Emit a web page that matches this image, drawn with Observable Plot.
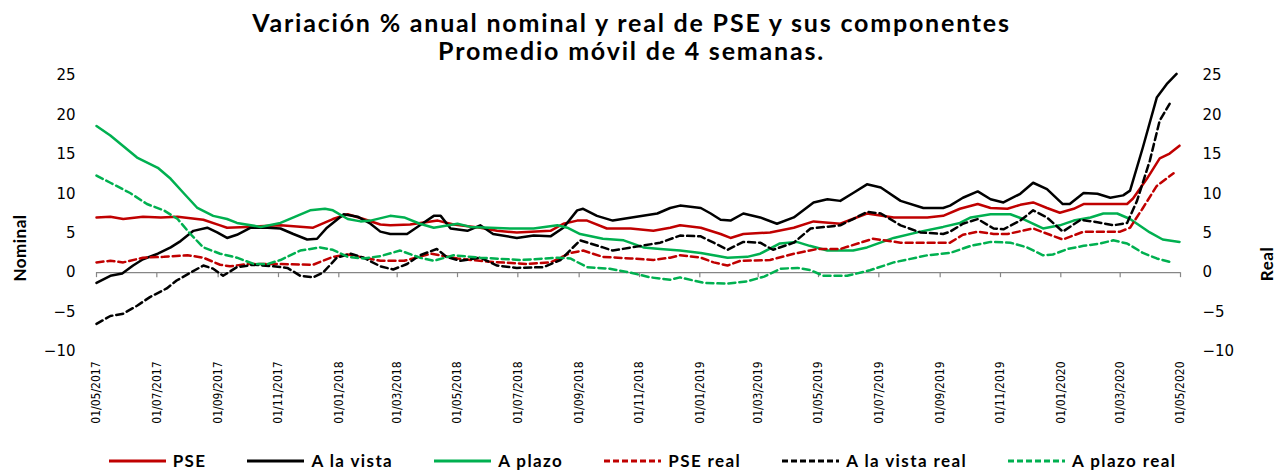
<!DOCTYPE html>
<html><head><meta charset="utf-8">
<script src="https://cdn.jsdelivr.net/npm/d3@7"></script>
<script src="https://cdn.jsdelivr.net/npm/@observablehq/plot@0.6"></script>
<style>
body{margin:0;background:#fff;width:1279px;height:470px;position:relative;overflow:hidden;font-family:Lato,"Open Sans",sans-serif;color:#000;}
#title{position:absolute;top:8px;left:-8px;width:1279px;text-align:center;font-weight:700;font-size:25px;line-height:28px;letter-spacing:1.8px;}
#chart{position:absolute;top:60px;left:0;}
.ylab{position:absolute;font-weight:700;font-size:17px;letter-spacing:0.5px;transform:translate(-50%,-50%) rotate(-90deg);white-space:nowrap;}
#legend{position:absolute;top:450px;left:3px;width:1279px;display:flex;justify-content:center;gap:41px;font-weight:700;font-size:17px;letter-spacing:1.4px;line-height:22px;}
#legend .item{display:flex;align-items:center;gap:7px;}
</style></head>
<body>
<div id="title">Variación % anual nominal y real de PSE y sus componentes<br>Promedio móvil de 4 semanas.</div>
<div id="chart"></div>
<div class="ylab" style="left:19px;top:248px;">Nominal</div>
<div class="ylab" style="left:1266px;top:264px;">Real</div>
<div id="legend"></div>
<script>
const pse = [["2017-05-01",7.0],["2017-05-15",7.1],["2017-05-28",6.8],["2017-06-17",7.1],["2017-07-05",7.0],["2017-07-22",7.1],["2017-08-17",6.7],["2017-09-03",6.0],["2017-09-10",5.7],["2017-09-30",5.8],["2017-11-03",6.0],["2017-12-06",5.7],["2017-12-26",6.8],["2018-01-10",7.4],["2018-01-26",6.8],["2018-02-12",6.1],["2018-02-22",6.0],["2018-03-14",6.1],["2018-04-11",6.6],["2018-04-27",6.1],["2018-05-24",5.7],["2018-06-10",5.3],["2018-06-30",5.1],["2018-08-03",5.3],["2018-08-16",6.2],["2018-08-30",6.6],["2018-09-09",6.6],["2018-09-29",5.6],["2018-10-23",5.6],["2018-11-15",5.3],["2018-12-02",5.7],["2018-12-12",6.0],["2019-01-02",5.7],["2019-01-22",4.9],["2019-02-01",4.4],["2019-02-14",4.9],["2019-03-13",5.1],["2019-04-06",5.7],["2019-04-26",6.5],["2019-05-23",6.2],["2019-06-19",7.5],["2019-07-16",7.0],["2019-08-19",7.0],["2019-09-04",7.2],["2019-09-21",8.1],["2019-10-09",8.7],["2019-10-22",8.2],["2019-11-08",8.1],["2019-11-21",8.6],["2019-12-04",8.9],["2019-12-18",8.2],["2019-12-31",7.6],["2020-01-14",8.1],["2020-01-24",8.7],["2020-02-10",8.7],["2020-03-08",8.7],["2020-03-14",9.4],["2020-03-28",11.9],["2020-04-10",14.5],["2020-04-20",15.1],["2020-04-30",16.1]];

const aLaVista = [["2017-05-01",-1.3],["2017-05-15",-0.4],["2017-05-27",-0.1],["2017-06-07",0.9],["2017-06-17",1.7],["2017-07-02",2.4],["2017-07-15",3.2],["2017-07-25",4.0],["2017-08-07",5.3],["2017-08-21",5.7],["2017-08-31",5.1],["2017-09-10",4.4],["2017-09-20",4.8],["2017-10-04",5.7],["2017-10-21",5.7],["2017-11-03",5.6],["2017-11-16",4.9],["2017-11-30",4.2],["2017-12-10",4.3],["2017-12-20",5.7],["2018-01-06",7.4],["2018-01-20",7.1],["2018-02-02",6.2],["2018-02-12",5.2],["2018-02-22",4.9],["2018-03-11",4.9],["2018-03-24",6.0],["2018-04-07",7.2],["2018-04-14",7.2],["2018-04-24",5.6],["2018-05-11",5.3],["2018-05-24",6.0],["2018-06-06",4.9],["2018-06-30",4.4],["2018-07-17",4.7],["2018-08-03",4.6],["2018-08-16",5.7],["2018-08-30",7.9],["2018-09-05",8.1],["2018-09-19",7.2],["2018-10-05",6.6],["2018-10-29",7.1],["2018-11-19",7.5],["2018-12-02",8.2],["2018-12-12",8.5],["2019-01-02",8.2],["2019-01-12",7.5],["2019-01-22",6.7],["2019-02-01",6.6],["2019-02-14",7.5],["2019-03-03",7.0],["2019-03-20",6.2],["2019-04-06",7.0],["2019-04-26",8.9],["2019-05-10",9.3],["2019-05-23",9.1],["2019-06-05",10.1],["2019-06-19",11.2],["2019-07-03",10.8],["2019-07-23",9.1],["2019-08-15",8.2],["2019-09-04",8.2],["2019-09-11",8.5],["2019-09-24",9.5],["2019-10-09",10.3],["2019-10-22",9.3],["2019-11-04",8.9],["2019-11-21",10.0],["2019-12-04",11.4],["2019-12-18",10.6],["2020-01-03",8.7],["2020-01-10",8.7],["2020-01-24",10.1],["2020-02-07",10.0],["2020-02-20",9.5],["2020-03-04",9.8],["2020-03-11",10.4],["2020-03-24",15.9],["2020-04-07",22.2],["2020-04-17",23.9],["2020-04-27",25.2]];

const aPlazo = [["2017-05-01",18.6],["2017-05-15",17.4],["2017-06-11",14.6],["2017-07-02",13.3],["2017-07-15",11.9],["2017-07-28",10.1],["2017-08-11",8.2],["2017-08-27",7.2],["2017-09-10",6.8],["2017-09-20",6.3],["2017-10-14",5.8],["2017-11-03",6.3],["2017-12-03",7.9],["2017-12-18",8.1],["2017-12-26",7.9],["2018-01-10",6.8],["2018-01-23",6.5],["2018-02-02",6.6],["2018-02-22",7.2],["2018-03-08",7.0],["2018-03-24",6.2],["2018-04-07",5.7],["2018-05-01",6.2],["2018-05-14",5.8],["2018-06-23",5.6],["2018-07-17",5.6],["2018-08-10",6.0],["2018-08-20",5.7],["2018-09-02",4.9],["2018-09-25",4.3],["2018-10-16",4.1],["2018-11-05",3.2],["2018-11-22",3.0],["2018-12-12",2.8],["2019-01-02",2.5],["2019-01-29",1.9],["2019-02-18",2.0],["2019-03-03",2.4],["2019-03-23",3.7],["2019-04-09",3.9],["2019-04-22",3.4],["2019-05-10",2.8],["2019-06-05",2.8],["2019-06-19",3.2],["2019-07-16",4.4],["2019-08-12",5.2],["2019-09-04",5.8],["2019-09-21",6.3],["2019-10-02",7.0],["2019-10-22",7.4],["2019-11-11",7.4],["2019-11-24",6.8],["2019-12-14",5.6],["2019-12-31",6.0],["2020-01-14",6.6],["2020-01-31",7.0],["2020-02-13",7.5],["2020-02-27",7.5],["2020-03-11",6.8],["2020-03-31",5.1],["2020-04-13",4.2],["2020-04-30",3.9]];

const pseReal = [["2017-05-01",1.3],["2017-05-15",1.5],["2017-05-28",1.3],["2017-06-17",1.9],["2017-07-08",2.0],["2017-08-01",2.2],["2017-08-17",1.9],["2017-09-03",1.0],["2017-09-13",0.8],["2017-09-30",1.1],["2017-11-03",1.1],["2017-12-06",1.0],["2017-12-26",2.0],["2018-01-10",2.3],["2018-01-26",1.9],["2018-02-12",1.5],["2018-03-08",1.5],["2018-04-04",2.4],["2018-05-01",1.8],["2018-05-31",1.4],["2018-07-10",1.1],["2018-08-03",1.3],["2018-08-23",2.5],["2018-09-05",2.8],["2018-09-25",2.0],["2018-10-23",1.8],["2018-11-15",1.6],["2018-12-02",1.9],["2018-12-12",2.2],["2019-01-02",1.9],["2019-01-15",1.3],["2019-01-29",0.9],["2019-02-11",1.5],["2019-03-13",1.6],["2019-04-06",2.4],["2019-04-30",3.0],["2019-05-23",3.0],["2019-06-25",4.3],["2019-07-23",3.8],["2019-08-25",3.8],["2019-09-11",3.8],["2019-09-24",4.8],["2019-10-09",5.2],["2019-10-25",4.9],["2019-11-08",4.9],["2019-12-04",5.6],["2019-12-21",4.8],["2020-01-03",4.2],["2020-01-24",5.2],["2020-02-10",5.2],["2020-03-01",5.2],["2020-03-11",5.7],["2020-03-24",8.2],["2020-04-07",11.0],["2020-04-24",12.6]];

const aLaVistaReal = [["2017-05-01",-6.5],["2017-05-15",-5.5],["2017-05-28",-5.2],["2017-06-11",-4.2],["2017-06-24",-3.1],["2017-07-11",-2.0],["2017-07-21",-1.0],["2017-08-04",0.0],["2017-08-17",0.9],["2017-08-27",0.5],["2017-09-06",-0.4],["2017-09-20",0.7],["2017-10-07",1.0],["2017-10-27",0.8],["2017-11-10",0.6],["2017-11-23",-0.4],["2017-12-06",-0.6],["2017-12-16",0.0],["2017-12-30",1.9],["2018-01-13",2.4],["2018-01-26",1.9],["2018-02-12",0.8],["2018-02-25",0.4],["2018-03-11",1.1],["2018-03-24",2.2],["2018-04-10",3.0],["2018-04-20",2.0],["2018-05-04",1.5],["2018-05-24",1.9],["2018-06-10",0.9],["2018-06-30",0.6],["2018-07-27",0.7],["2018-08-13",1.6],["2018-09-02",4.1],["2018-09-25",3.2],["2018-10-05",2.8],["2018-10-29",3.3],["2018-11-22",3.8],["2018-12-12",4.7],["2019-01-02",4.6],["2019-01-15",3.8],["2019-01-29",2.9],["2019-02-14",3.9],["2019-03-03",3.8],["2019-03-16",2.9],["2019-04-06",3.8],["2019-04-23",5.6],["2019-05-23",6.0],["2019-06-05",6.8],["2019-06-19",7.7],["2019-07-03",7.5],["2019-07-23",6.0],["2019-08-12",5.1],["2019-09-04",4.9],["2019-09-11",5.2],["2019-09-24",6.2],["2019-10-09",6.8],["2019-10-25",5.6],["2019-11-04",5.5],["2019-11-21",6.6],["2019-12-04",7.9],["2019-12-18",7.0],["2020-01-03",5.2],["2020-01-21",6.7],["2020-02-07",6.4],["2020-02-23",6.0],["2020-03-08",6.3],["2020-03-18",9.1],["2020-03-31",14.2],["2020-04-10",19.3],["2020-04-20",21.4]];

const aPlazoReal = [["2017-05-01",12.3],["2017-05-15",11.4],["2017-06-04",10.1],["2017-06-21",8.7],["2017-07-08",7.9],["2017-07-22",6.8],["2017-08-04",4.9],["2017-08-17",3.2],["2017-09-03",2.4],["2017-09-20",1.9],["2017-10-07",1.1],["2017-10-21",1.1],["2017-11-03",1.6],["2017-11-23",2.8],["2017-12-13",3.2],["2017-12-26",2.9],["2018-01-10",2.0],["2018-01-26",1.8],["2018-02-12",2.1],["2018-03-04",2.8],["2018-03-24",1.9],["2018-04-07",1.5],["2018-04-27",2.2],["2018-05-24",1.9],["2018-07-04",1.6],["2018-08-10",1.9],["2018-08-23",1.8],["2018-09-09",0.7],["2018-10-02",0.5],["2018-10-23",0.0],["2018-11-12",-0.6],["2018-12-02",-0.9],["2018-12-12",-0.6],["2019-01-05",-1.3],["2019-01-29",-1.4],["2019-02-18",-1.1],["2019-03-07",-0.5],["2019-03-24",0.5],["2019-04-10",0.6],["2019-04-23",0.3],["2019-05-06",-0.4],["2019-05-30",-0.4],["2019-06-22",0.3],["2019-07-16",1.3],["2019-08-19",2.2],["2019-09-11",2.5],["2019-10-02",3.4],["2019-10-22",3.9],["2019-11-11",3.8],["2019-11-28",3.2],["2019-12-14",2.2],["2019-12-24",2.3],["2020-01-08",3.0],["2020-01-24",3.4],["2020-02-10",3.7],["2020-02-23",4.1],["2020-03-08",3.7],["2020-03-24",2.5],["2020-04-07",1.8],["2020-04-22",1.3]];

const yTicks = [-10, -5, 0, 5, 10, 15, 20, 25];
const xTickLabels = ["2017-05-01","2017-07-01","2017-09-01","2017-11-01","2018-01-01","2018-03-01","2018-05-01","2018-07-01","2018-09-01","2018-11-01","2019-01-01","2019-03-01","2019-05-01","2019-07-01","2019-09-01","2019-11-01","2020-01-01","2020-03-01","2020-05-01"];

const seriesDefs = [
  {name: "PSE", data: pse, color: "#C00000", dash: null},
  {name: "A la vista", data: aLaVista, color: "#000000", dash: null},
  {name: "A plazo", data: aPlazo, color: "#00B050", dash: null},
  {name: "PSE real", data: pseReal, color: "#C00000", dash: "7,4"},
  {name: "A la vista real", data: aLaVistaReal, color: "#000000", dash: "7,4"},
  {name: "A plazo real", data: aPlazoReal, color: "#00B050", dash: "7,4"}
];

const tickDates = xTickLabels.map(d => new Date(d));
const fmt = d3.utcFormat("%d/%m/%Y");

const lineMarks = seriesDefs.map(s => Plot.line(
  s.data.map(([d, v]) => ({date: new Date(d), value: v})),
  {x: "date", y: "value", stroke: s.color, strokeWidth: 2.5, strokeDasharray: s.dash || undefined, strokeLinejoin: "round"}
));

const chart = Plot.plot({
  width: 1279,
  height: 380,
  marginTop: 15,
  marginBottom: 89,
  marginLeft: 96,
  marginRight: 99,
  style: {fontFamily: "'DejaVu Sans', Verdana, sans-serif", fontSize: "15px", color: "#000", background: "#fff"},
  x: {type: "utc", domain: [tickDates[0], tickDates[tickDates.length - 1]]},
  y: {domain: [-10, 25]},
  marks: [
    Plot.ruleY([0], {stroke: "#868686", strokeWidth: 1.2}),
    Plot.ruleX(tickDates, {x: d => d, y1: 0, y2: 0, insetBottom: -5, stroke: "#868686", strokeWidth: 1.2}),
    Plot.axisX({ticks: tickDates, tickFormat: fmt, tickSize: 0, tickPadding: 10, tickRotate: -90, fontSize: 12, fontFamily: "'DejaVu Sans Condensed','DejaVu Sans',sans-serif", label: null}),
    Plot.axisY({anchor: "left", ticks: yTicks, tickSize: 0, tickPadding: 21, label: null, fontSize: 15}),
    Plot.axisY({anchor: "right", ticks: yTicks, tickSize: 0, tickPadding: 22, label: null, fontSize: 15}),
    ...lineMarks
  ]
});
document.getElementById("chart").appendChild(chart);

const legend = document.getElementById("legend");
for (const s of seriesDefs) {
  const item = document.createElement("div");
  item.className = "item";
  const ns = "http://www.w3.org/2000/svg";
  const sw = document.createElementNS(ns, "svg");
  sw.setAttribute("width", 57); sw.setAttribute("height", 8);
  const ln = document.createElementNS(ns, "line");
  ln.setAttribute("x1", 0); ln.setAttribute("x2", 57); ln.setAttribute("y1", 4); ln.setAttribute("y2", 4);
  ln.setAttribute("stroke", s.color); ln.setAttribute("stroke-width", 3);
  if (s.dash) ln.setAttribute("stroke-dasharray", "6,3");
  sw.appendChild(ln);
  const tx = document.createElement("span");
  tx.textContent = s.name;
  item.appendChild(sw); item.appendChild(tx);
  legend.appendChild(item);
}
</script>
</body></html>
